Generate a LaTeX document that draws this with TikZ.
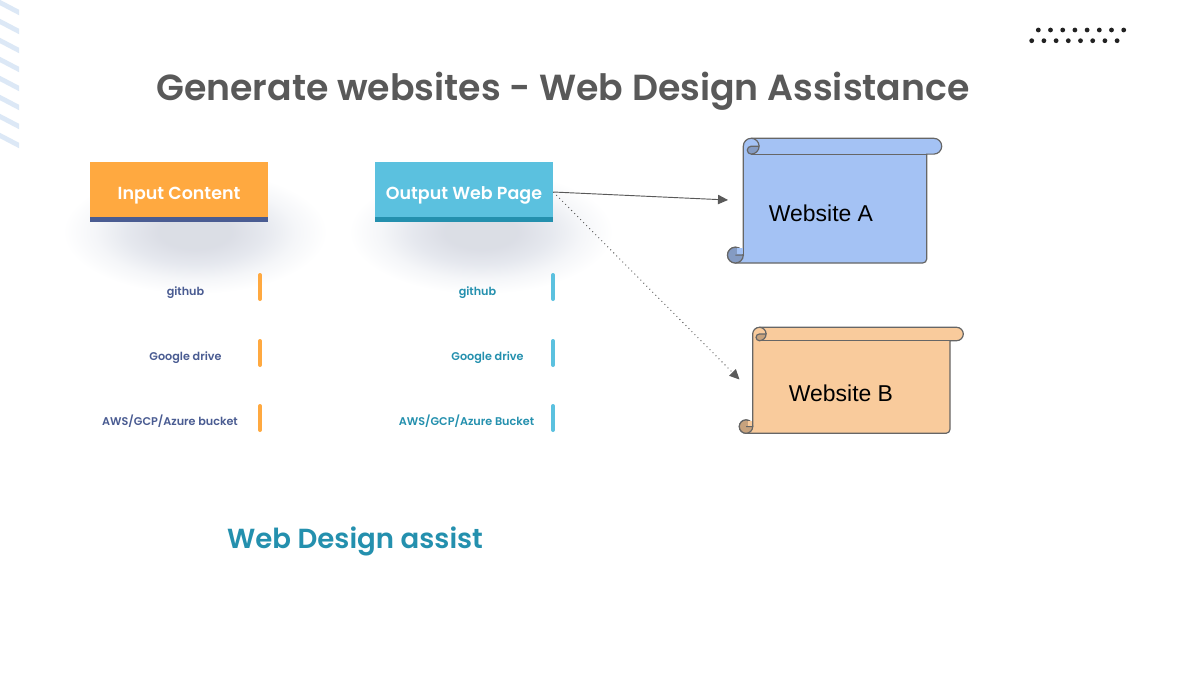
\documentclass[tikz,border=0pt]{standalone}
\usepackage{fontspec}
\setmainfont{Poppins SemiBold}
\newfontfamily\webfont{Liberation Sans}
\usetikzlibrary{arrows.meta}
\definecolor{inorange}{HTML}{FFA940}
\definecolor{inblue}{HTML}{4A5C92}
\definecolor{outcyan}{HTML}{5BC1DF}
\definecolor{outteal}{HTML}{2490AE}
\definecolor{titlegray}{HTML}{595959}
\definecolor{scrollgray}{HTML}{666666}
\definecolor{stripeblue}{HTML}{DCE8F6}
\definecolor{dotblack}{HTML}{222222}
\definecolor{siteblue}{HTML}{A4C2F4}
\definecolor{sitedarkblue}{HTML}{849BC3}
\definecolor{siteorange}{HTML}{F9CB9C}
\definecolor{sitedarkorange}{HTML}{C7A27D}
\pgfdeclareradialshading{blurshade}{\pgfpoint{0bp}{0bp}}{%
rgb(0bp)=(0.86,0.87,0.90);rgb(7bp)=(0.86,0.87,0.90);rgb(13bp)=(0.90,0.91,0.935);rgb(19bp)=(0.96,0.965,0.975);rgb(25bp)=(1,1,1);rgb(50bp)=(1,1,1)}
% left, top, right, bottom, roll radius, roll end, fill, dark fill
\newcommand{\scrollshape}[8]{
\filldraw[fill=#7] (#1,#2+#5) arc[start angle=180,end angle=270,radius=#5] -- (#6-#5,#2)
  arc[start angle=-90,end angle=90,radius=#5] -- (#3,#2+2*#5) -- (#3,#4-4)
  arc[start angle=0,end angle=90,radius=4] -- (#1-#5,#4)
  arc[start angle=90,end angle=360,radius=#5] -- cycle;
\draw (#1+#5,#2+2*#5) -- (#3,#2+2*#5);
\filldraw[fill=#8] (#1+#5,#2+2*#5) arc[start angle=90,end angle=0,radius=#5] -- (#1+#5,#2+#5)
  arc[start angle=270,end angle=90,radius=#5/2] -- cycle;
\draw (#1+#5,#2) arc[start angle=270,end angle=360,radius=#5];
\filldraw[fill=#8] (#1-#5,#4) arc[start angle=90,end angle=360,radius=#5] -- (#1-#5,#4-#5) -- (#1,#4-#5)
  arc[start angle=0,end angle=90,radius=#5] -- cycle;
\fill[#7] (#1-#5+2,#4-2*#5+.7) rectangle (#1-.6,#4-#5-1);
}
\begin{document}
\begin{tikzpicture}[x=.75pt,y=-.75pt,>={Triangle[length=7.5pt,width=7pt]},
main box/.style={minimum width=133.5pt,minimum height=45pt,inner sep=0pt,text=white,text height=11pt,text depth=.5pt,font=\fontsize{13.1}{16}\selectfont},
side label/.style={inner sep=0pt,anchor=base,font=\fontsize{8.4}{10}\selectfont},
side bar/.style={line width=3pt,line cap=round},
web text/.style={inner sep=0pt,anchor=base,text=black,font=\webfont\fontsize{17.2}{20}\selectfont},
scroll line/.style={draw=scrollgray,line width=.9pt}]
\useasboundingbox (0,0) rectangle (1200,676);
\fill[white] (0,0) rectangle (1200,676);
% stripes
\begin{scope}
\clip (0,0) rectangle (19,160);
\foreach \k in {0,...,7}
  \draw[stripeblue,line width=3.6pt] (-2,{1.5+19*\k}) -- (21,{13.5+19*\k});
\end{scope}
% dots
\foreach \k in {0,...,7} {
  \fill[dotblack] ({1038.3+12.2*\k},30) circle (2.4);
  \fill[dotblack] ({1031.7+12.2*\k},40.7) circle (2.4);
}
\node[inner sep=0pt,anchor=base,text=titlegray,font=\fontsize{27.2}{33}\selectfont] (title) at (563,100) {Generate websites - Web Design Assistance};
% shadows
\shade[shading=blurshade] (195,232) ellipse (132 and 62);
\shade[shading=blurshade] (481,232) ellipse (132 and 62);
% boxes
\node[main box,fill=inorange] (inbox) at (179,192) {Input Content};
\node[main box,fill=outcyan] (outbox) at (464,192) {Output Web Page};
\fill[inblue] (90,217) rectangle (268,222);
\fill[outteal] (375,217) rectangle (553,222);
% labels on the left
\node[side label,text=inblue] (ingit) at (185.5,295) {github};
\node[side label,text=inblue] (indrive) at (185.5,360) {Google drive};
\node[side label,text=inblue] (inaws) at (170,425) {AWS/GCP/Azure bucket};
\node[side label,text=outteal] (outgit) at (477.5,295) {github};
\node[side label,text=outteal] (outdrive) at (487.5,360) {Google drive};
\node[side label,text=outteal] (outaws) at (466.5,425) {AWS/GCP/Azure Bucket};
\foreach \y in {275,341,406} {
  \draw[side bar,inorange] (260,\y) -- (260,\y+24);
  \draw[side bar,outcyan] (553,\y) -- (553,\y+24);
}
\node[inner sep=0pt,anchor=base,text=outteal,font=\fontsize{20.7}{26}\selectfont] (assist) at (355,548) {Web Design assist};
% scrolls
\begin{scope}[scroll line]
\scrollshape{743.3}{138.3}{926.7}{263}{7.9}{941.7}{siteblue}{sitedarkblue}
\scrollshape{752.7}{327.3}{950}{433.3}{6.7}{963.3}{siteorange}{sitedarkorange}
\end{scope}
\node[web text] (siteA) at (821,221) {Website A};
\node[web text] (siteB) at (841,401) {Website B};
% connectors
\coordinate (endA) at (728,200);
\coordinate (endB) at (739.5,379.5);
\draw[->,titlegray,line width=.7pt] (outbox.east) -- (endA);
\draw[->,titlegray,line width=.7pt,dash pattern=on .7pt off 2.5pt] (outbox.east) -- (endB);
\end{tikzpicture}
\end{document}
